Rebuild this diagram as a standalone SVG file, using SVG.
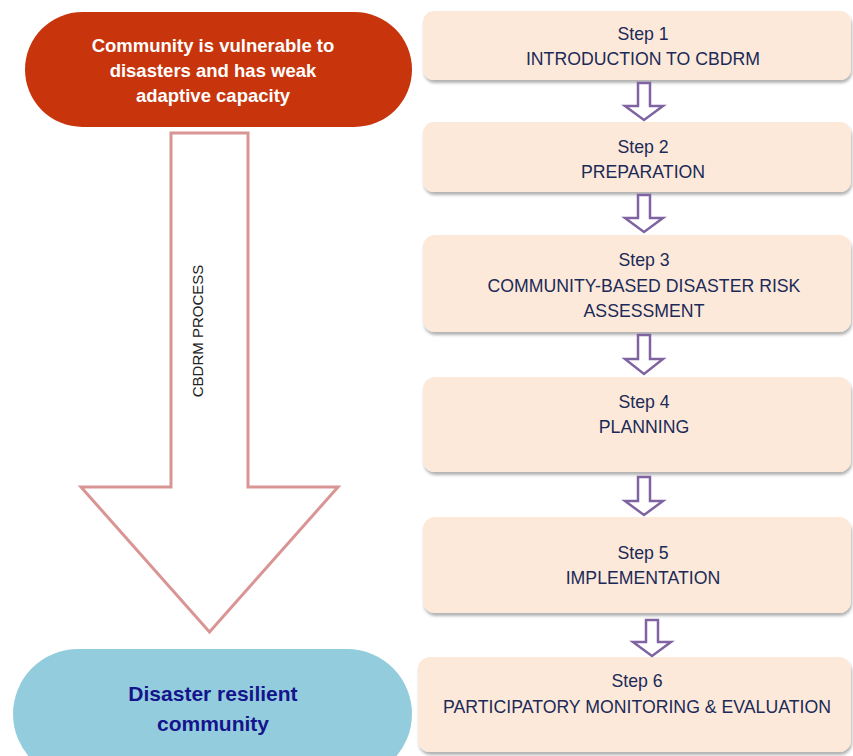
<svg xmlns="http://www.w3.org/2000/svg" width="853" height="756" viewBox="0 0 853 756">
<defs>
<filter id="sh" x="-5%" y="-10%" width="110%" height="130%">
<feDropShadow dx="1" dy="3" stdDeviation="1.6" flood-color="#000" flood-opacity="0.3"/>
</filter>
<style>
.step{fill:#FDE9D9;filter:url(#sh);}
.st{font-family:"Liberation Sans",Arial,sans-serif;font-size:17.7px;fill:#1B2A58;text-anchor:middle;}
.pa{fill:#FFFFFF;stroke:#8064A2;stroke-width:2.5;stroke-linejoin:miter;}
.wt{font-family:"Liberation Sans",Arial,sans-serif;font-size:18.5px;font-weight:bold;fill:#FFFFFF;text-anchor:middle;}
.bt{font-family:"Liberation Sans",Arial,sans-serif;font-size:21px;font-weight:bold;fill:#14148C;text-anchor:middle;}
</style>
</defs>
<rect width="853" height="756" fill="#FFFFFF"/>

<g id="start">
<rect x="25" y="12" width="387" height="115" rx="57.5" fill="#C8350C"/>
<text class="wt" x="213" y="52">Community is vulnerable to</text>
<text class="wt" x="213" y="77">disasters and has weak</text>
<text class="wt" x="213" y="102">adaptive capacity</text>
</g>

<g id="process-arrow">
<path d="M171,133 H248 V487 H338 L209.5,632 L81,487 H171 Z" fill="#FFFFFF" stroke="#D99594" stroke-width="3"/>
<text transform="translate(203,331) rotate(-90)" font-family="Liberation Sans,Arial,sans-serif" font-size="15" fill="#222222" text-anchor="middle">CBDRM PROCESS</text>
</g>

<g id="end">
<rect x="13" y="649" width="399" height="130" rx="65" fill="#93CDDD"/>
<text class="bt" x="213" y="701">Disaster resilient</text>
<text class="bt" x="213" y="731">community</text>
</g>

<g id="step1">
<rect class="step" x="423" y="11" width="428" height="69" rx="11"/>
<text class="st" x="643" y="40">Step 1</text>
<text class="st" x="643" y="65">INTRODUCTION TO CBDRM</text>
</g>
<g id="step2">
<rect class="step" x="423" y="122" width="428" height="70" rx="11"/>
<text class="st" x="643" y="153">Step 2</text>
<text class="st" x="643" y="178">PREPARATION</text>
</g>
<g id="step3">
<rect class="step" x="423" y="235" width="428" height="97" rx="12"/>
<text class="st" x="644" y="266">Step 3</text>
<text class="st" x="644" y="292">COMMUNITY-BASED DISASTER RISK</text>
<text class="st" x="644" y="317">ASSESSMENT</text>
</g>
<g id="step4">
<rect class="step" x="423" y="377" width="428" height="95" rx="12"/>
<text class="st" x="644" y="408">Step 4</text>
<text class="st" x="644" y="433">PLANNING</text>
</g>
<g id="step5">
<rect class="step" x="423" y="517" width="428" height="96" rx="12"/>
<text class="st" x="643" y="559">Step 5</text>
<text class="st" x="643" y="584">IMPLEMENTATION</text>
</g>
<g id="step6">
<rect class="step" x="418" y="657" width="433" height="95" rx="12"/>
<text class="st" x="637" y="687">Step 6</text>
<text class="st" x="637" y="713">PARTICIPATORY MONITORING &amp; EVALUATION</text>
</g>

<g id="connectors">
<path class="pa" d="M638,83 H650 V106 H663 L644,120 L625,106 H638 Z"/>
<path class="pa" d="M638,195 H650 V218 H663 L644,232 L625,218 H638 Z"/>
<path class="pa" d="M638,335 H650 V359 H663 L644,374 L625,359 H638 Z"/>
<path class="pa" d="M638,477 H650 V501 H663 L644,515 L625,501 H638 Z"/>
<path class="pa" d="M646,620 H658 V642 H671 L652,656 L633,642 H646 Z"/>
</g>
</svg>
